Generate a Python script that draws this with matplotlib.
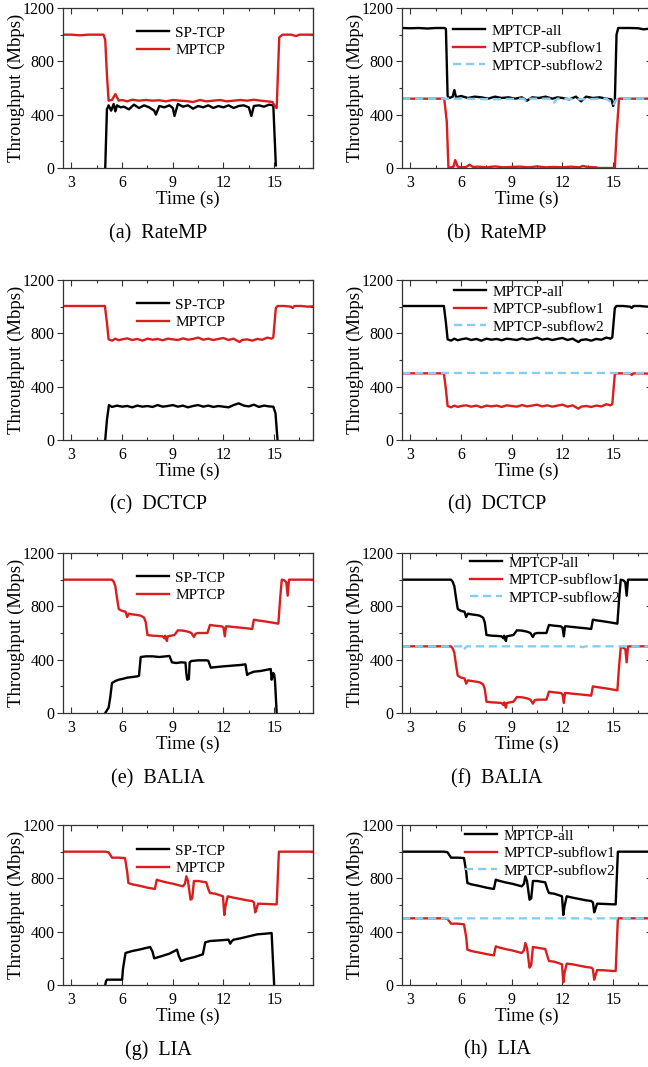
import matplotlib
matplotlib.use("Agg")
import matplotlib.pyplot as plt
from matplotlib.ticker import MultipleLocator

plt.rcParams['font.family'] = ['Liberation Serif', 'DejaVu Serif']

# ---------------- data ----------------
# (a) RateMP, single-path vs multipath
a_mp_t = [2.5, 3.0, 3.5, 4.0, 4.5, 4.9, 5.0, 5.1, 5.2, 5.4, 5.6, 5.8, 6.0, 6.3, 6.6, 7.0, 7.4, 7.8, 8.2, 8.6,
          9.0, 9.4, 9.8, 10.2, 10.6, 11.0, 11.4, 11.8, 12.2, 12.6, 13.0, 13.4, 13.8, 14.2, 14.6, 14.9, 15.05,
          15.15, 15.3, 15.5, 16.0, 16.3, 16.5, 17.0, 17.5]
a_mp = [1000, 1000, 995, 1000, 1000, 1000, 960, 700, 505, 510, 555, 505, 510, 500, 512, 505, 510, 505, 508, 500,
        510, 505, 502, 495, 510, 500, 505, 510, 500, 505, 510, 505, 512, 505, 500, 495, 460, 450, 980, 1000,
        1000, 990, 1000, 1000, 1000]
a_sp_t = [5.0, 5.1, 5.2, 5.35, 5.5, 5.6, 5.7, 5.9, 6.1, 6.4, 6.7, 7.0, 7.3, 7.6, 7.9, 8.0, 8.2, 8.5, 8.8, 9.0,
          9.1, 9.3, 9.6, 9.9, 10.2, 10.5, 10.8, 11.1, 11.4, 11.7, 12.0, 12.3, 12.6, 12.9, 13.2, 13.5, 13.65,
          13.8, 14.1, 14.4, 14.7, 14.95, 15.1]
a_sp = [0, 440, 470, 430, 480, 425, 470, 455, 460, 440, 475, 450, 470, 455, 430, 400, 465, 455, 470, 450,
        390, 480, 460, 470, 445, 465, 455, 470, 450, 465, 455, 470, 450, 465, 470, 455, 390, 465, 470, 460,
        475, 470, 20]

# (b) RateMP, subflows
b_all_t = [2.5, 3.0, 3.5, 4.0, 4.5, 5.0, 5.1, 5.2, 5.3, 5.5, 5.6, 5.7, 6.0, 6.4, 6.8, 7.2, 7.6, 8.0, 8.4,
           8.8, 9.2, 9.6, 9.9, 10.2, 10.6, 11.0, 11.4, 11.7, 12.0, 12.4, 12.8, 13.1, 13.4, 13.8, 14.2, 14.6,
           14.9, 15.0, 15.1, 15.2, 15.3, 16.0, 16.5, 16.8, 17.5]
b_all = [1050, 1048, 1050, 1046, 1050, 1050, 1045, 540, 525, 535, 585, 530, 540, 525, 535, 530, 520, 535, 525,
         530, 520, 530, 505, 530, 525, 535, 520, 530, 525, 515, 535, 500, 535, 525, 530, 520, 515, 465, 500,
         1000, 1050, 1050, 1048, 1040, 1050]
b_s1_t = [2.5, 3.0, 4.0, 5.0, 5.15, 5.25, 5.4, 5.55, 5.65, 5.8, 6.0, 6.3, 6.5, 6.7, 7.0, 7.5, 8.0, 8.5, 9.0,
          9.5, 10.0, 10.5, 11.0, 11.5, 12.0, 12.5, 13.0, 13.2, 13.5, 14.0, 14.1, 15.1, 15.2, 15.35, 16.0, 17.5]
b_s1 = [520, 520, 520, 520, 350, 0, 5, 10, 60, 10, 5, 8, 25, 8, 10, 5, 12, 5, 8,
        10, 5, 12, 5, 8, 5, 10, 5, 15, 8, 5, 0, 0, 250, 520, 520, 520]
b_s2_t = [2.5, 5.0, 6.0, 8.0, 9.7, 9.9, 10.1, 11.3, 11.5, 11.7, 13.0, 14.6, 14.9, 15.0, 15.15, 15.3, 17.5]
b_s2 = [520, 520, 520, 515, 520, 495, 520, 520, 490, 520, 515, 520, 490, 470, 505, 520, 520]

# (c) DCTCP, single-path vs multipath
c_mp_t = [2.5, 3.0, 4.0, 4.98, 5.1, 5.2, 5.4, 5.6, 5.8, 6.0, 6.3, 6.6, 6.9, 7.2, 7.5, 7.8, 8.1, 8.4, 8.7,
          9.0, 9.3, 9.6, 9.9, 10.2, 10.5, 10.8, 11.1, 11.4, 11.7, 12.0, 12.3, 12.6, 12.8, 12.95, 13.1, 13.4,
          13.7, 14.0, 14.3, 14.6, 14.85, 14.95, 15.1, 15.2, 15.6, 16.0, 16.1, 16.2, 16.6, 17.0, 17.5]
c_mp = [1005, 1005, 1005, 1005, 880, 755, 745, 760, 748, 755, 762, 750, 758, 745, 760, 752, 758, 748, 760,
        755, 750, 762, 752, 758, 768, 752, 760, 750, 758, 765, 750, 760, 745, 735, 750, 755,
        745, 758, 752, 768, 760, 770, 990, 1005, 1005, 1000, 990, 1005, 1005, 1000, 1005]
c_sp_t = [5.0, 5.1, 5.22, 5.4, 5.7, 6.0, 6.3, 6.6, 6.9, 7.2, 7.5, 7.8, 8.1, 8.4, 8.7, 9.0, 9.3, 9.6, 9.9,
          10.2, 10.5, 10.8, 11.1, 11.4, 11.7, 12.0, 12.3, 12.6, 12.9, 13.2, 13.5, 13.8, 14.1, 14.4, 14.7,
          14.95, 15.08, 15.2]
c_sp = [0, 150, 262, 248, 258, 250, 255, 245, 258, 250, 255, 248, 262, 250, 255, 262, 250, 258, 245,
        255, 262, 250, 258, 248, 255, 250, 245, 262, 275, 258, 252, 265, 248, 258, 252,
        250, 200, 0]

# (d) DCTCP, subflows
d_all_t = c_mp_t
d_all = c_mp
d_s1_t = [2.5, 3.0, 4.0, 4.98, 5.1, 5.2, 5.4, 5.6, 5.8, 6.0, 6.3, 6.6, 6.9, 7.2, 7.5, 7.8, 8.1, 8.4, 8.7,
          9.0, 9.3, 9.6, 9.9, 10.2, 10.5, 10.8, 11.1, 11.4, 11.7, 12.0, 12.3, 12.6, 12.8, 12.95, 13.1, 13.4,
          13.7, 14.0, 14.3, 14.6, 14.85, 14.95, 15.1, 15.2, 15.6, 16.0, 16.1, 16.2, 16.6, 17.0, 17.5]
d_s1 = [500, 500, 500, 500, 380, 255, 245, 258, 248, 255, 260, 250, 258, 245, 258, 252, 258, 248, 260,
        255, 250, 262, 252, 258, 265, 252, 260, 250, 258, 265, 250, 260, 245, 235, 250, 255,
        248, 258, 252, 268, 260, 270, 495, 500, 500, 500, 488, 500, 500, 498, 500]
d_s2_t = [2.5, 17.5]
d_s2 = [500, 500]

# (e) BALIA, single-path vs multipath
e_mp_t = [2.5, 3.0, 4.0, 5.0, 5.4, 5.5, 5.6, 5.7, 5.8, 6.0, 6.2, 6.3, 6.4, 6.6, 6.9, 7.1, 7.3, 7.4, 7.5, 7.8,
          8.1, 8.4, 8.5, 8.55, 8.65, 8.7, 8.9, 9.1, 9.3, 9.6, 9.9, 10.1, 10.25, 10.35, 10.5, 10.8, 11.05, 11.2,
          11.5, 11.9, 12.0, 12.08, 12.15, 12.25, 12.6, 13.0, 13.4, 13.7, 13.8, 14.0, 14.4, 14.8, 15.25, 15.35,
          15.45, 15.6, 15.72, 15.8, 15.88, 16.0, 16.5, 17.0, 17.5]
e_mp = [1000, 1000, 1000, 1000, 1000, 985, 950, 860, 780, 765, 760, 720, 745, 740, 735, 730, 715, 680, 585, 580,
        578, 575, 560, 580, 540, 575, 580, 585, 620, 618, 610, 600, 570, 595, 600, 600, 600, 660,
        655, 650, 640, 575, 650, 650, 645, 640, 635, 630, 700, 695, 688, 680, 670, 850,
        1000, 995, 980, 880, 1000, 1000, 1000, 1000, 1000]
e_sp_t = [5.0, 5.1, 5.2, 5.3, 5.4, 5.6, 5.8, 6.0, 6.3, 6.6, 6.9, 7.0, 7.1, 7.4, 7.8, 8.2, 8.6, 8.8, 8.95, 9.2,
          9.5, 9.75, 9.8, 9.85, 9.95, 10.0, 10.1, 10.5, 11.0, 11.1, 11.25, 11.6, 12.0, 12.5, 13.0, 13.3, 13.4,
          13.5, 13.8, 14.2, 14.6, 14.8, 14.85, 14.95, 15.0, 15.05, 15.15]
e_sp = [0, 20, 40, 120, 225, 240, 250, 255, 265, 270, 275, 280, 420, 425, 425, 420, 425, 428, 380, 375,
        380, 378, 300, 250, 255, 380, 390, 395, 395, 392, 340, 345, 350, 355, 360, 365, 285,
        295, 310, 315, 325, 330, 250, 300, 290, 240, 0]

# (f) BALIA, subflows
f_all_t = e_mp_t
f_all = e_mp
f_s1_t = e_mp_t
f_s1 = [500, 500, 500, 500, 500, 485, 450, 360, 280, 265, 260, 220, 245, 240, 235, 230, 215, 180, 85, 80,
        78, 75, 60, 80, 40, 75, 80, 85, 120, 118, 110, 100, 70, 95, 100, 100, 100, 160,
        155, 150, 140, 75, 150, 150, 145, 140, 135, 130, 200, 195, 188, 180, 170, 350,
        490, 490, 480, 380, 500, 500, 500, 500, 500]
f_s2_t = [2.5, 6.0, 6.15, 6.25, 6.35, 13.0, 13.2, 13.4, 17.5]
f_s2 = [500, 500, 470, 490, 500, 500, 494, 500, 500]

# (g) LIA, single-path vs multipath
g_mp_t = [2.5, 3.0, 4.0, 5.0, 5.2, 5.4, 5.8, 6.17, 6.3, 6.37, 6.6, 7.0, 7.5, 7.94, 8.05, 8.15, 8.6, 9.0, 9.59,
          9.72, 9.8, 9.9, 10.05, 10.15, 10.25, 10.5, 10.98, 11.1, 11.2, 11.5, 11.87, 11.97, 12.05, 12.12,
          12.25, 12.6, 13.0, 13.4, 13.7, 13.8, 13.88, 13.95, 14.05, 14.5, 15.0, 15.15, 15.28, 15.5, 16.0,
          17.0, 17.5]
g_mp = [1000, 1000, 1000, 1000, 995, 955, 955, 952, 850, 765, 755, 745, 730, 720, 790, 785, 770, 760, 740,
        760, 815, 780, 640, 650, 780, 780, 770, 720, 690, 685, 670, 665, 525, 590,
        665, 655, 645, 635, 630, 620, 545, 570, 610, 608, 605, 605, 1000, 1000, 1000,
        1000, 1000]
g_sp_t = [5.0, 5.05, 5.1, 5.5, 6.0, 6.05, 6.2, 6.6, 7.0, 7.66, 7.8, 7.9, 8.3, 8.8, 9.25, 9.35, 9.49, 9.8,
          10.3, 10.78, 10.92, 11.2, 11.8, 12.3, 12.4, 12.5, 12.6, 13.0, 13.5, 14.0, 14.5, 14.85, 15.0]
g_sp = [0, 30, 40, 40, 40, 120, 240, 255, 265, 285, 250, 200, 215, 235, 265, 220, 180, 195,
        210, 230, 320, 330, 335, 340, 310, 330, 340, 350, 365, 380, 385, 390, 0]

# (h) LIA, subflows
h_all_t = g_mp_t
h_all = g_mp
h_s1_t = g_mp_t
h_s1 = [500, 500, 500, 500, 495, 460, 460, 455, 360, 265, 255, 245, 232, 222, 290, 285, 270, 260, 240,
        260, 315, 280, 130, 150, 285, 280, 270, 220, 180, 175, 160, 155, 20, 90,
        160, 155, 145, 135, 130, 120, 40, 70, 112, 110, 105, 105, 500, 500, 500,
        500, 500]
h_s2_t = [2.5, 13.5, 13.7, 13.9, 17.5]
h_s2 = [500, 500, 494, 500, 500]

captions = ["(a)  RateMP", "(b)  RateMP", "(c)  DCTCP", "(d)  DCTCP",
            "(e)  BALIA", "(f)  BALIA", "(g)  LIA", "(h)  LIA"]
x_ticks = [3, 6, 9, 12, 15]
y_ticks = [0, 400, 800, 1200]

# ---------------- style ----------------
W, H = 648, 1067
BLACK = '#000000'
RED = '#d81e1e'
BLUE = '#86cdf2'
LW = 1.7

fig = plt.figure(figsize=(W / 100, H / 100), dpi=100)

row_tops = [8, 280, 553, 825]
col_lefts = [63, 402]
AX_W, AX_H = 250, 160
cap_y = [234, 505, 779, 1050]
cap_x = [158, 497]


def px_rect(left, top, w, h):
    return [left / W, 1 - (top + h) / H, w / W, h / H]


def style_axis(ax):
    ax.set_xlim(2.5, 17.3)
    ax.set_ylim(0, 1200)
    ax.set_xticks(x_ticks)
    ax.set_yticks(y_ticks)
    ax.xaxis.set_minor_locator(MultipleLocator(1.5))
    ax.yaxis.set_minor_locator(MultipleLocator(200))
    ax.tick_params(axis='x', which='both', direction='in', top=True, bottom=True,
                   labelsize=11.5, pad=5, color='#333333')
    ax.tick_params(axis='y', which='both', direction='out', left=True, right=False,
                   labelsize=11.5, pad=2, color='#333333')
    ax.tick_params(which='major', length=4, width=0.8)
    ax.tick_params(which='minor', length=2.5, width=0.8)
    sec = ax.secondary_yaxis('right')
    sec.set_yticks(y_ticks)
    sec.yaxis.set_minor_locator(MultipleLocator(200))
    sec.tick_params(axis='y', which='both', direction='in', labelright=False, color='#333333')
    sec.tick_params(which='major', length=4, width=0.8)
    sec.tick_params(which='minor', length=2.5, width=0.8)
    sec.spines['right'].set_color('#333333')
    for s in ax.spines.values():
        s.set_color('#333333')
        s.set_linewidth(0.9)
    ax.set_xlabel('Time (s)', fontsize=13.5, labelpad=0)
    ax.set_ylabel('Throughput (Mbps)', fontsize=13.5)
    ax.yaxis.set_label_coords(-0.15, 0.5)


panels_left = [(a_sp_t, a_sp, a_mp_t, a_mp), (c_sp_t, c_sp, c_mp_t, c_mp),
               (e_sp_t, e_sp, e_mp_t, e_mp), (g_sp_t, g_sp, g_mp_t, g_mp)]
panels_right = [(b_all_t, b_all, b_s1_t, b_s1, b_s2_t, b_s2),
                (d_all_t, d_all, d_s1_t, d_s1, d_s2_t, d_s2),
                (f_all_t, f_all, f_s1_t, f_s1, f_s2_t, f_s2),
                (h_all_t, h_all, h_s1_t, h_s1, h_s2_t, h_s2)]
leg_left_pos = [(137, 26), (137, 298), (137, 571), (137, 844)]
leg_right_pos = [(453, 24), (454, 285), (470, 556), (465, 829)]

for r in range(4):
    # left column
    ax = fig.add_axes(px_rect(col_lefts[0], row_tops[r], AX_W, AX_H))
    st, sv, mt, mv = panels_left[r]
    ax.plot(st, sv, color=BLACK, lw=LW, label='SP-TCP')
    ax.plot(mt, mv, color=RED, lw=LW, label='MPTCP')
    style_axis(ax)
    lx, ly = leg_left_pos[r]
    ax.legend(loc='upper left', bbox_to_anchor=((lx - col_lefts[0]) / AX_W, (row_tops[r] + AX_H - ly) / AX_H),
              frameon=False, fontsize=11, handlelength=2.1, handletextpad=0.4, labelspacing=0.25,
              borderpad=0, borderaxespad=0)
    fig.text(cap_x[0] / W, 1 - cap_y[r] / H, captions[2 * r], ha='center', va='center', fontsize=14.5)

    # right column
    ax = fig.add_axes(px_rect(col_lefts[1], row_tops[r], AX_W, AX_H))
    at, av, s1t, s1v, s2t, s2v = panels_right[r]
    ax.plot(at, av, color=BLACK, lw=LW, label='MPTCP-all')
    ax.plot(s1t, s1v, color=RED, lw=LW, label='MPTCP-subflow1')
    ax.plot(s2t, s2v, color=BLUE, lw=LW, ls=(0, (3.5, 2)), label='MPTCP-subflow2')
    style_axis(ax)
    lx, ly = leg_right_pos[r]
    ax.legend(loc='upper left', bbox_to_anchor=((lx - col_lefts[1]) / AX_W, (row_tops[r] + AX_H - ly) / AX_H),
              frameon=False, fontsize=11, handlelength=2.1, handletextpad=0.4, labelspacing=0.25,
              borderpad=0, borderaxespad=0)
    fig.text(cap_x[1] / W, 1 - cap_y[r] / H, captions[2 * r + 1], ha='center', va='center', fontsize=14.5)

fig.savefig('out.png', dpi=100)
